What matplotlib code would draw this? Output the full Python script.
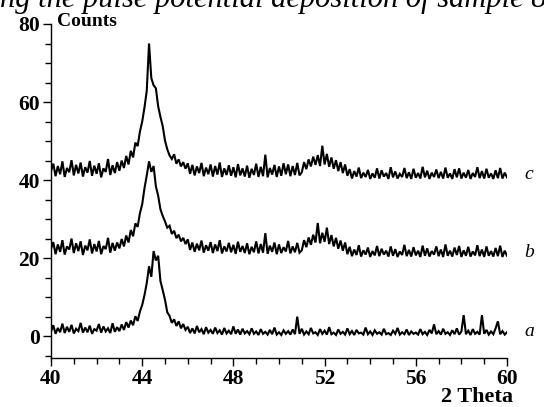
import numpy as np
import matplotlib
matplotlib.use("Agg")
import matplotlib.pyplot as plt
from matplotlib.ticker import MultipleLocator

# 2 Theta grid: 40.0 .. 60.0 in steps of 0.1
theta_start = 40.0
theta_step = 0.1

# sample a (counts)
counts_a = (
    [1.2, 2.8, 0.6, 2.1, 1.0, 3.2, 0.8, 2.4, 1.1, 2.9,
     0.7, 1.9, 1.3, 3.4, 0.9, 2.2, 1.0, 2.7, 0.6, 1.8,
     1.4, 3.1, 0.9, 2.5, 1.2, 2.0, 0.8, 3.3, 1.1, 2.3]
    + [1.3, 3.0, 1.6, 3.6, 2.2, 4.0, 2.8, 5.1, 3.9, 6.3]
    + [8.0, 10.5, 13.6, 17.9, 15.2, 21.8, 19.4, 20.6, 14.1, 11.8]
    + [9.3, 6.1, 5.2, 3.4, 4.3, 2.6, 3.8, 2.0, 3.1, 1.6]
    + [2.4, 0.8, 2.0, 0.7, 2.6, 1.0, 1.8, 0.5, 2.3, 0.9,
       1.6, 0.6, 2.2, 0.8, 1.5, 0.4, 2.1, 0.7, 1.4, 0.5,
       2.5, 0.6, 1.7, 0.4, 1.9, 0.7, 1.3, 0.5, 2.0, 0.6,
       1.2, 0.3, 1.8, 0.6, 1.1, 0.4, 1.6, 0.5, 2.2, 0.4,
       1.0, 0.3, 1.5, 0.6, 1.3, 0.4, 1.7, 0.5]
    + [5.0]
    + [0.6, 1.9, 0.4, 1.2, 0.5, 2.1, 0.7, 1.0, 0.3, 1.8,
       0.6, 1.4, 0.4, 2.3, 0.5, 0.9, 0.3, 1.7, 0.6, 1.1,
       0.4, 2.0, 0.5, 1.3, 0.3, 1.6, 0.7, 0.9, 0.4, 2.2,
       0.5, 1.2, 0.3, 1.5, 0.6, 1.0, 0.4, 1.9, 0.5, 0.8,
       0.3, 1.4, 0.6, 2.1, 0.4, 1.0, 0.5, 1.7, 0.3, 1.2,
       0.6, 0.9, 0.4, 1.8, 0.5, 1.1, 0.3, 1.6, 0.7]
    + [3.0]
    + [0.5, 1.3, 0.4, 1.9, 0.6, 1.0, 0.3, 1.5, 0.5, 2.0, 0.4, 1.2]
    + [5.4]
    + [0.5, 1.4, 0.3, 1.8, 0.6, 1.1, 0.4]
    + [5.4]
    + [0.6, 1.6, 0.4, 1.2, 0.5, 2.0]
    + [3.8]
    + [0.5, 1.3, 0.4, 1.0]
)

# sample b
counts_b = (
    [22.4, 24.1, 21.0, 23.5, 21.6, 24.6, 20.9, 23.0, 22.2, 25.0,
     21.3, 23.8, 21.8, 24.3, 20.8, 23.2, 22.0, 24.8, 21.2, 23.6,
     21.7, 24.4, 21.0, 23.1, 22.3, 25.2, 21.4, 23.9, 21.9, 24.0]
    + [22.5, 24.9, 23.0, 25.8, 24.0, 27.2, 25.6, 28.9, 28.0, 31.5]
    + [33.8, 37.9, 41.2, 44.8, 42.1, 43.6, 38.4, 36.0, 32.5, 30.8]
    + [29.4, 27.8, 28.3, 26.2, 27.0, 25.1, 26.0, 24.3, 25.2, 23.6]
    + [24.8, 22.1, 24.0, 21.6, 23.7, 22.0, 24.5, 21.4, 23.3, 21.9,
       24.1, 21.3, 23.5, 21.8, 24.6, 21.2, 23.0, 21.7, 23.9, 21.5,
       23.4, 21.1, 24.2, 21.6, 23.1, 21.3, 23.8, 21.0, 22.9, 21.5,
       24.3, 21.2, 23.6, 21.4, 26.4, 21.1, 23.2, 21.6, 24.0, 21.0,
       23.5, 21.3, 22.8, 21.7, 24.4, 21.2, 23.0, 21.5, 23.9, 21.4]
    + [22.0, 24.6, 22.8, 25.3, 23.4, 26.0, 24.0, 29.0, 23.8, 26.5,
       24.2, 27.8, 23.6, 25.9, 23.0, 25.2, 22.4, 24.5, 21.9, 24.0]
    + [21.0, 22.9, 20.5, 22.2, 20.8, 23.3, 20.4, 22.0, 20.9, 22.7,
       20.3, 21.8, 20.7, 23.1, 20.5, 22.4, 20.9, 21.9, 20.4, 23.0,
       20.6, 22.3, 20.3, 21.7, 20.8, 23.4, 20.5, 22.1, 20.4, 22.8,
       20.7, 21.9, 20.3, 23.2, 20.6, 22.5, 20.4, 21.8, 20.9, 23.0,
       20.5, 22.2, 20.3, 23.5, 20.6, 21.9, 20.4, 22.7, 20.8, 23.1,
       20.3, 22.0, 20.6, 22.9, 20.4, 21.7, 20.7, 23.3, 20.5, 22.2,
       20.3, 23.0, 20.6, 21.8, 20.4, 22.6, 20.5, 23.2, 20.3, 21.9,
       20.6]
)

# sample c
counts_c = (
    [42.3, 44.2, 41.0, 43.6, 41.5, 44.8, 40.8, 43.1, 42.0, 45.1,
     41.2, 43.9, 41.7, 44.5, 40.9, 43.3, 41.9, 44.9, 41.1, 43.7,
     41.6, 44.3, 40.7, 43.0, 42.1, 45.4, 41.3, 43.8, 41.8, 44.6]
    + [42.4, 45.0, 43.1, 46.2, 44.0, 47.5, 45.8, 49.6, 48.7, 52.4]
    + [55.0, 58.6, 62.9, 75.0, 66.1, 64.3, 63.5, 58.9, 56.2, 53.8]
    + [50.1, 47.9, 46.3, 45.4, 46.6, 44.2, 45.3, 43.5, 44.6, 42.9]
    + [44.3, 41.6, 43.9, 41.2, 43.5, 41.8, 44.4, 41.0, 43.2, 41.5,
       44.0, 40.9, 43.6, 41.4, 44.5, 40.8, 43.0, 41.3, 43.8, 41.1,
       43.3, 40.7, 44.1, 41.2, 43.0, 40.9, 43.7, 40.6, 42.9, 41.3,
       44.2, 40.8, 43.4, 41.0, 46.5, 40.7, 43.1, 41.4, 43.9, 40.8,
       43.5, 41.1, 44.3, 41.5, 44.0, 41.0, 43.6, 41.3, 44.4, 41.2]
    + [42.0, 44.6, 42.8, 45.3, 43.5, 46.0, 43.9, 46.4, 43.6, 48.8,
       44.0, 46.7, 43.4, 45.8, 42.9, 45.1, 42.3, 44.6, 41.8, 44.0]
    + [41.1, 42.8, 40.4, 42.3, 40.9, 43.2, 40.5, 41.9, 40.8, 42.6,
       40.3, 41.7, 40.6, 43.0, 40.4, 42.5, 40.9, 41.8, 40.3, 43.3,
       40.7, 42.2, 40.4, 41.6, 40.8, 43.1, 40.5, 42.0, 40.3, 42.9,
       40.6, 41.8, 40.4, 43.4, 40.7, 42.4, 40.3, 41.9, 40.8, 42.7,
       40.5, 42.1, 40.4, 43.2, 40.6, 41.7, 40.3, 42.8, 40.7, 43.0,
       40.4, 41.9, 40.6, 42.6, 40.3, 41.8, 40.8, 43.3, 40.5, 42.3,
       40.4, 42.9, 40.6, 41.7, 40.3, 42.5, 40.5, 43.1, 40.4, 41.9,
       40.7]
)

series = [counts_a, counts_b, counts_c]
series_labels = ["a", "b", "c"]
label_levels = [1.3, 21.5, 41.4]
xticks = [40, 44, 48, 52, 56, 60]
yticks = [0, 20, 40, 60, 80]

serif = "Liberation Serif"

fig = plt.figure(figsize=(5.44, 4.07), dpi=100)
ax = fig.add_axes([51 / 544, 1 - 358 / 407, 456 / 544, 334 / 407])

for vals in series:
    x = theta_start + theta_step * np.arange(len(vals))
    ax.plot(x, vals, color="black", lw=1.5, solid_joinstyle="miter")

ax.set_xlim(40, 60)
ax.set_ylim(-5.6, 80)

for side in ["top", "right"]:
    ax.spines[side].set_visible(False)
for side in ["left", "bottom"]:
    ax.spines[side].set_linewidth(1.0)

ax.set_xticks(xticks)
ax.set_yticks(yticks)
ax.xaxis.set_minor_locator(MultipleLocator(1))
ax.yaxis.set_minor_locator(MultipleLocator(5))
ax.tick_params(which="major", direction="out", length=6, width=1.0)
ax.tick_params(which="minor", direction="out", length=4, width=1.0)
ax.tick_params(axis="x", pad=2)
ax.tick_params(axis="y", pad=2)
for lab in ax.get_xticklabels() + ax.get_yticklabels():
    lab.set_fontfamily(serif)
    lab.set_fontweight("bold")
    lab.set_fontsize(15.5)

# curve labels on the right
for name, lev in zip(series_labels, label_levels):
    ax.text(60.75, lev, name, fontfamily=serif, fontstyle="italic",
            fontsize=14, va="center", ha="left", clip_on=False)

fig.text(57 / 544, 1 - 21 / 407, "Counts", fontfamily=serif,
         fontweight="bold", fontsize=14, va="center", ha="left")
fig.text(513 / 544, 1 - 402 / 407, "2 Theta", fontfamily=serif,
         fontweight="bold", fontsize=16, va="baseline", ha="right")

# caption line cut off at the top of the image
fig.text(0.0, 1 - 7 / 407, "ng the pulse potential deposition of sample 8",
         fontfamily=serif, fontstyle="italic", fontsize=22,
         va="baseline", ha="left")

fig.savefig("out.png", dpi=100)
